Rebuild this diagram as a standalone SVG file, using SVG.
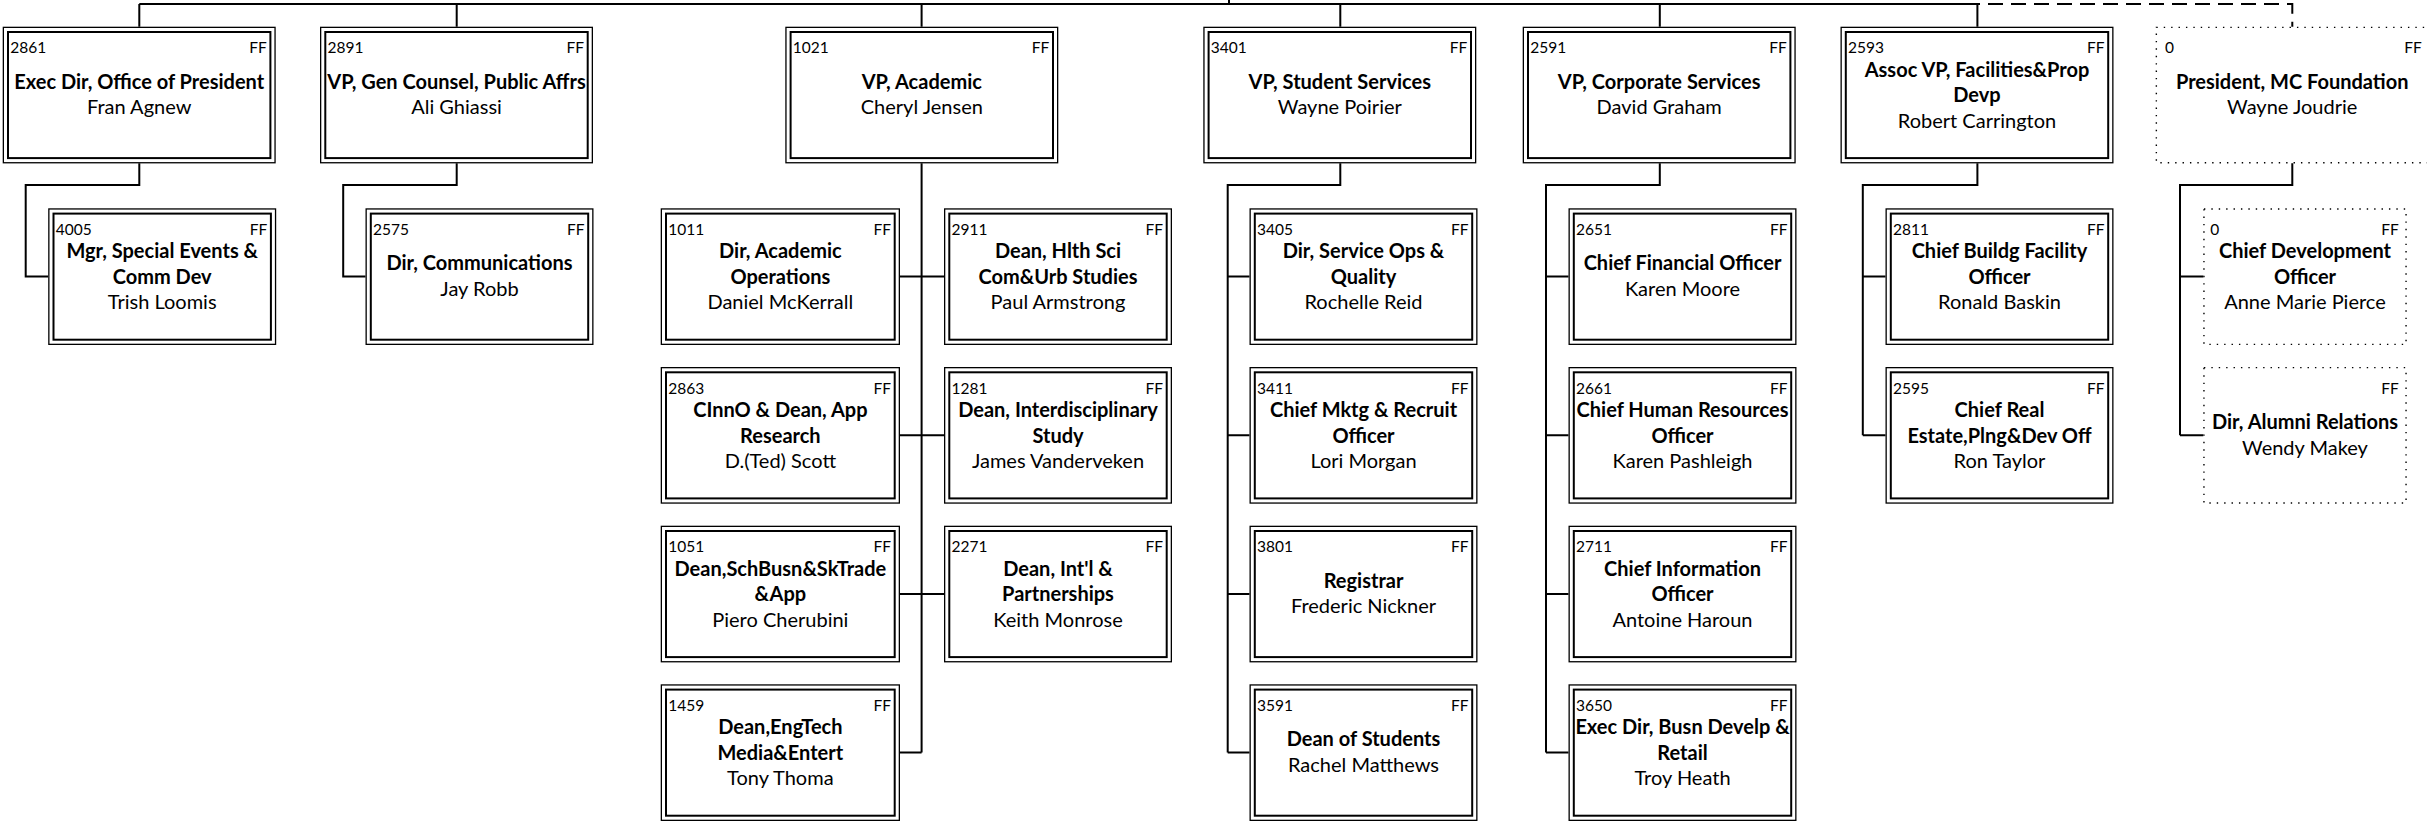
<svg xmlns="http://www.w3.org/2000/svg" width="2427" height="822" viewBox="0 0 2427 822">
<style>
text{font-family:Lato,"Liberation Sans",Arial,sans-serif;fill:#000}
.o{fill:#fff;stroke:#000;stroke-width:1.3}
.i{fill:none;stroke:#000;stroke-width:2}
.d{fill:#fff;stroke:#000;stroke-width:1.4;stroke-dasharray:1.4 6}
.id{font-size:15.5px}
.ff{font-size:15.5px;text-anchor:end}
.t{font-size:20px;font-weight:bold;text-anchor:middle}
.n{font-size:20px;text-anchor:middle}
.c{fill:none;stroke:#000;stroke-width:2}
.dash{fill:none;stroke:#000;stroke-width:2;stroke-dasharray:15 8}
</style>
<rect width="2427" height="822" fill="#fff"/>
<g id="connectors">
<path class="c" d="M139.3,4H1977.4M1229,0V4M139.3,4V26.7M456.7,4V26.7M921.6,4V26.7M1340.3,4V26.7M1659.8,4V26.7M1977.4,4V26.7"/>
<path class="dash" d="M1229,4H2292.3V26.7"/>
<path class="c" d="M139.3,163.3V185H25.7V276.6H48.2"/>
<path class="c" d="M456.7,163.3V185H343.2V276.6H365.5"/>
<path class="c" d="M921.6,163.3V752.6M900,276.6H944M900,435.3H944M900,594H944M900,752.6H921.6"/>
<path class="c" d="M1340.3,163.3V185H1227.7V752.6M1227.7,276.6H1249.5M1227.7,435.3H1249.5M1227.7,594H1249.5M1227.7,752.6H1249.5"/>
<path class="c" d="M1659.8,163.3V185H1546V752.6M1546,276.6H1568.5M1546,435.3H1568.5M1546,594H1568.5M1546,752.6H1568.5"/>
<path class="c" d="M1977.4,163.3V185H1862.8V435.3M1862.8,276.6H1885.5M1862.8,435.3H1885.5"/>
<path class="c" d="M2292.3,163.3V185H2180V435.3M2180,276.6H2203.3M2180,435.3H2203.3"/>
</g>

<g id="n2861" transform="translate(2.7,26.7)">
<rect class="o" x="0.65" y="0.65" width="271.7" height="135.4"/><rect class="i" x="5.3" y="5.3" width="262.4" height="126.1"/>
<text class="id" x="7.5" y="26.5">2861</text><text class="ff" x="264" y="26.5">FF</text>
<text class="t" x="136.5" y="62">Exec Dir, Office of President</text><text class="n" x="136.5" y="87.5">Fran Agnew</text>
</g>
<g id="n2891" transform="translate(320,26.7)">
<rect class="o" x="0.65" y="0.65" width="271.7" height="135.4"/><rect class="i" x="5.3" y="5.3" width="262.4" height="126.1"/>
<text class="id" x="7.5" y="26.5">2891</text><text class="ff" x="264" y="26.5">FF</text>
<text class="t" x="136.5" y="62">VP, Gen Counsel, Public Affrs</text><text class="n" x="136.5" y="87.5">Ali Ghiassi</text>
</g>
<g id="n1021" transform="translate(785.3,26.7)">
<rect class="o" x="0.65" y="0.65" width="271.7" height="135.4"/><rect class="i" x="5.3" y="5.3" width="262.4" height="126.1"/>
<text class="id" x="7.5" y="26.5">1021</text><text class="ff" x="264" y="26.5">FF</text>
<text class="t" x="136.5" y="62">VP, Academic</text><text class="n" x="136.5" y="87.5">Cheryl Jensen</text>
</g>
<g id="n3401" transform="translate(1203.3,26.7)">
<rect class="o" x="0.65" y="0.65" width="271.7" height="135.4"/><rect class="i" x="5.3" y="5.3" width="262.4" height="126.1"/>
<text class="id" x="7.5" y="26.5">3401</text><text class="ff" x="264" y="26.5">FF</text>
<text class="t" x="136.5" y="62">VP, Student Services</text><text class="n" x="136.5" y="87.5">Wayne Poirier</text>
</g>
<g id="n2591" transform="translate(1522.7,26.7)">
<rect class="o" x="0.65" y="0.65" width="271.7" height="135.4"/><rect class="i" x="5.3" y="5.3" width="262.4" height="126.1"/>
<text class="id" x="7.5" y="26.5">2591</text><text class="ff" x="264" y="26.5">FF</text>
<text class="t" x="136.5" y="62">VP, Corporate Services</text><text class="n" x="136.5" y="87.5">David Graham</text>
</g>
<g id="n2593" transform="translate(1840.5,26.7)">
<rect class="o" x="0.65" y="0.65" width="271.7" height="135.4"/><rect class="i" x="5.3" y="5.3" width="262.4" height="126.1"/>
<text class="id" x="7.5" y="26.5">2593</text><text class="ff" x="264" y="26.5">FF</text>
<text class="t" x="136.5" y="50">Assoc VP, Facilities&amp;Prop</text><text class="t" x="136.5" y="75.5">Devp</text><text class="n" x="136.5" y="101">Robert Carrington</text>
</g>
<g id="nF0" transform="translate(2155.7,26.7)">
<rect class="d" x="0.65" y="0.65" width="271.7" height="135.4"/>
<text class="id" x="9.3" y="26.5">0</text><text class="ff" x="266" y="26.5">FF</text>
<text class="t" x="136.5" y="62">President, MC Foundation</text><text class="n" x="136.5" y="87.5">Wayne Joudrie</text>
</g>

<g id="n4005" transform="translate(48.2,208.3)">
<rect class="o" x="0.65" y="0.65" width="226.7" height="135.4"/><rect class="i" x="5.3" y="5.3" width="217.4" height="126.1"/>
<text class="id" x="7.5" y="26.5">4005</text><text class="ff" x="219" y="26.5">FF</text>
<text class="t" x="114" y="50">Mgr, Special Events &amp;</text><text class="t" x="114" y="75.5">Comm Dev</text><text class="n" x="114" y="101">Trish Loomis</text>
</g>
<g id="n2575" transform="translate(365.5,208.3)">
<rect class="o" x="0.65" y="0.65" width="226.7" height="135.4"/><rect class="i" x="5.3" y="5.3" width="217.4" height="126.1"/>
<text class="id" x="7.5" y="26.5">2575</text><text class="ff" x="219" y="26.5">FF</text>
<text class="t" x="114" y="62">Dir, Communications</text><text class="n" x="114" y="87.5">Jay Robb</text>
</g>
<g id="n1011" transform="translate(660.7,208.3)">
<rect class="o" x="0.65" y="0.65" width="238" height="135.4"/><rect class="i" x="5.3" y="5.3" width="228.7" height="126.1"/>
<text class="id" x="7.5" y="26.5">1011</text><text class="ff" x="230.3" y="26.5">FF</text>
<text class="t" x="119.65" y="50">Dir, Academic</text><text class="t" x="119.65" y="75.5">Operations</text><text class="n" x="119.65" y="101">Daniel McKerrall</text>
</g>
<g id="n2911" transform="translate(944,208.3)">
<rect class="o" x="0.65" y="0.65" width="226.7" height="135.4"/><rect class="i" x="5.3" y="5.3" width="217.4" height="126.1"/>
<text class="id" x="7.5" y="26.5">2911</text><text class="ff" x="219" y="26.5">FF</text>
<text class="t" x="114" y="50">Dean, Hlth Sci</text><text class="t" x="114" y="75.5">Com&amp;Urb Studies</text><text class="n" x="114" y="101">Paul Armstrong</text>
</g>
<g id="n3405" transform="translate(1249.5,208.3)">
<rect class="o" x="0.65" y="0.65" width="226.7" height="135.4"/><rect class="i" x="5.3" y="5.3" width="217.4" height="126.1"/>
<text class="id" x="7.5" y="26.5">3405</text><text class="ff" x="219" y="26.5">FF</text>
<text class="t" x="114" y="50">Dir, Service Ops &amp;</text><text class="t" x="114" y="75.5">Quality</text><text class="n" x="114" y="101">Rochelle Reid</text>
</g>
<g id="n2651" transform="translate(1568.5,208.3)">
<rect class="o" x="0.65" y="0.65" width="226.7" height="135.4"/><rect class="i" x="5.3" y="5.3" width="217.4" height="126.1"/>
<text class="id" x="7.5" y="26.5">2651</text><text class="ff" x="219" y="26.5">FF</text>
<text class="t" x="114" y="62">Chief Financial Officer</text><text class="n" x="114" y="87.5">Karen Moore</text>
</g>
<g id="n2811" transform="translate(1885.5,208.3)">
<rect class="o" x="0.65" y="0.65" width="226.7" height="135.4"/><rect class="i" x="5.3" y="5.3" width="217.4" height="126.1"/>
<text class="id" x="7.5" y="26.5">2811</text><text class="ff" x="219" y="26.5">FF</text>
<text class="t" x="114" y="50">Chief Buildg Facility</text><text class="t" x="114" y="75.5">Officer</text><text class="n" x="114" y="101">Ronald Baskin</text>
</g>
<g id="nCDO" transform="translate(2203.3,208.3)">
<rect class="d" x="0.65" y="0.65" width="202.1" height="135.4"/>
<text class="id" x="7" y="26.5">0</text><text class="ff" x="195.4" y="26.5">FF</text>
<text class="t" x="101.7" y="50">Chief Development</text><text class="t" x="101.7" y="75.5">Officer</text><text class="n" x="101.7" y="101">Anne Marie Pierce</text>
</g>

<g id="n2863" transform="translate(660.7,367)">
<rect class="o" x="0.65" y="0.65" width="238" height="135.4"/><rect class="i" x="5.3" y="5.3" width="228.7" height="126.1"/>
<text class="id" x="7.5" y="26.5">2863</text><text class="ff" x="230.3" y="26.5">FF</text>
<text class="t" x="119.65" y="50">CInnO &amp; Dean, App</text><text class="t" x="119.65" y="75.5">Research</text><text class="n" x="119.65" y="101">D.(Ted) Scott</text>
</g>
<g id="n1281" transform="translate(944,367)">
<rect class="o" x="0.65" y="0.65" width="226.7" height="135.4"/><rect class="i" x="5.3" y="5.3" width="217.4" height="126.1"/>
<text class="id" x="7.5" y="26.5">1281</text><text class="ff" x="219" y="26.5">FF</text>
<text class="t" x="114" y="50">Dean, Interdisciplinary</text><text class="t" x="114" y="75.5">Study</text><text class="n" x="114" y="101">James Vanderveken</text>
</g>
<g id="n3411" transform="translate(1249.5,367)">
<rect class="o" x="0.65" y="0.65" width="226.7" height="135.4"/><rect class="i" x="5.3" y="5.3" width="217.4" height="126.1"/>
<text class="id" x="7.5" y="26.5">3411</text><text class="ff" x="219" y="26.5">FF</text>
<text class="t" x="114" y="50">Chief Mktg &amp; Recruit</text><text class="t" x="114" y="75.5">Officer</text><text class="n" x="114" y="101">Lori Morgan</text>
</g>
<g id="n2661" transform="translate(1568.5,367)">
<rect class="o" x="0.65" y="0.65" width="226.7" height="135.4"/><rect class="i" x="5.3" y="5.3" width="217.4" height="126.1"/>
<text class="id" x="7.5" y="26.5">2661</text><text class="ff" x="219" y="26.5">FF</text>
<text class="t" x="114" y="50">Chief Human Resources</text><text class="t" x="114" y="75.5">Officer</text><text class="n" x="114" y="101">Karen Pashleigh</text>
</g>
<g id="n2595" transform="translate(1885.5,367)">
<rect class="o" x="0.65" y="0.65" width="226.7" height="135.4"/><rect class="i" x="5.3" y="5.3" width="217.4" height="126.1"/>
<text class="id" x="7.5" y="26.5">2595</text><text class="ff" x="219" y="26.5">FF</text>
<text class="t" x="114" y="50">Chief Real</text><text class="t" x="114" y="75.5">Estate,Plng&amp;Dev Off</text><text class="n" x="114" y="101">Ron Taylor</text>
</g>
<g id="nDAR" transform="translate(2203.3,367)">
<rect class="d" x="0.65" y="0.65" width="202.1" height="135.4"/>
<text class="ff" x="195.4" y="26.5">FF</text>
<text class="t" x="101.7" y="62">Dir, Alumni Relations</text><text class="n" x="101.7" y="87.5">Wendy Makey</text>
</g>

<g id="n1051" transform="translate(660.7,525.7)">
<rect class="o" x="0.65" y="0.65" width="238" height="135.4"/><rect class="i" x="5.3" y="5.3" width="228.7" height="126.1"/>
<text class="id" x="7.5" y="26.5">1051</text><text class="ff" x="230.3" y="26.5">FF</text>
<text class="t" x="119.65" y="50">Dean,SchBusn&amp;SkTrade</text><text class="t" x="119.65" y="75.5">&amp;App</text><text class="n" x="119.65" y="101">Piero Cherubini</text>
</g>
<g id="n2271" transform="translate(944,525.7)">
<rect class="o" x="0.65" y="0.65" width="226.7" height="135.4"/><rect class="i" x="5.3" y="5.3" width="217.4" height="126.1"/>
<text class="id" x="7.5" y="26.5">2271</text><text class="ff" x="219" y="26.5">FF</text>
<text class="t" x="114" y="50">Dean, Int'l &amp;</text><text class="t" x="114" y="75.5">Partnerships</text><text class="n" x="114" y="101">Keith Monrose</text>
</g>
<g id="n3801" transform="translate(1249.5,525.7)">
<rect class="o" x="0.65" y="0.65" width="226.7" height="135.4"/><rect class="i" x="5.3" y="5.3" width="217.4" height="126.1"/>
<text class="id" x="7.5" y="26.5">3801</text><text class="ff" x="219" y="26.5">FF</text>
<text class="t" x="114" y="62">Registrar</text><text class="n" x="114" y="87.5">Frederic Nickner</text>
</g>
<g id="n2711" transform="translate(1568.5,525.7)">
<rect class="o" x="0.65" y="0.65" width="226.7" height="135.4"/><rect class="i" x="5.3" y="5.3" width="217.4" height="126.1"/>
<text class="id" x="7.5" y="26.5">2711</text><text class="ff" x="219" y="26.5">FF</text>
<text class="t" x="114" y="50">Chief Information</text><text class="t" x="114" y="75.5">Officer</text><text class="n" x="114" y="101">Antoine Haroun</text>
</g>

<g id="n1459" transform="translate(660.7,684.3)">
<rect class="o" x="0.65" y="0.65" width="238" height="135.4"/><rect class="i" x="5.3" y="5.3" width="228.7" height="126.1"/>
<text class="id" x="7.5" y="26.5">1459</text><text class="ff" x="230.3" y="26.5">FF</text>
<text class="t" x="119.65" y="50">Dean,EngTech</text><text class="t" x="119.65" y="75.5">Media&amp;Entert</text><text class="n" x="119.65" y="101">Tony Thoma</text>
</g>
<g id="n3591" transform="translate(1249.5,684.3)">
<rect class="o" x="0.65" y="0.65" width="226.7" height="135.4"/><rect class="i" x="5.3" y="5.3" width="217.4" height="126.1"/>
<text class="id" x="7.5" y="26.5">3591</text><text class="ff" x="219" y="26.5">FF</text>
<text class="t" x="114" y="62">Dean of Students</text><text class="n" x="114" y="87.5">Rachel Matthews</text>
</g>
<g id="n3650" transform="translate(1568.5,684.3)">
<rect class="o" x="0.65" y="0.65" width="226.7" height="135.4"/><rect class="i" x="5.3" y="5.3" width="217.4" height="126.1"/>
<text class="id" x="7.5" y="26.5">3650</text><text class="ff" x="219" y="26.5">FF</text>
<text class="t" x="114" y="50">Exec Dir, Busn Develp &amp;</text><text class="t" x="114" y="75.5">Retail</text><text class="n" x="114" y="101">Troy Heath</text>
</g>
</svg>
